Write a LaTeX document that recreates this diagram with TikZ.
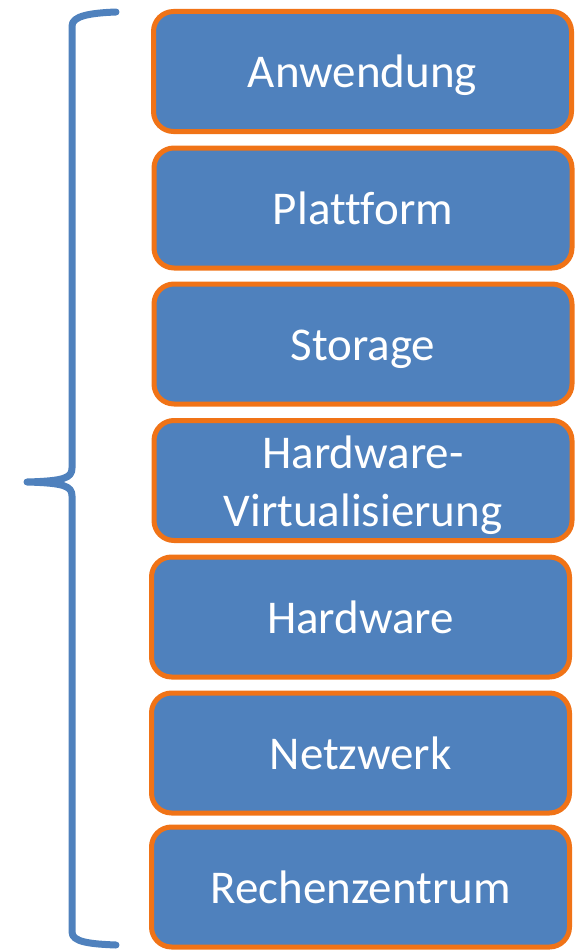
\documentclass[tikz,border=0pt]{standalone}
\usepackage{fontspec}
\setmainfont{Carlito}[Ligatures=NoCommon]
\definecolor{boxblue}{HTML}{4F81BD}
\definecolor{boxorange}{HTML}{F07317}
\begin{document}
\begin{tikzpicture}[x=1pt,y=-1pt,
  layer/.style={draw=boxorange, fill=boxblue, line width=5pt, rounded corners=20pt,
    minimum width=418pt, minimum height=120pt, inner sep=0pt, text=white,
    font=\fontsize{47}{58}\selectfont, align=center,
    text height=33pt, text depth=0pt},
  bracket/.style={draw=boxblue, line width=7pt, line cap=round, line join=round}]
\useasboundingbox (0,0) rectangle (574,950);
\node[layer] (a) at (362.5,71.5) {Anwendung};
\node[layer] (b) at (363,208) {Plattform};
\node[layer] (c) at (363,344) {Storage};
\node[layer, text height=91pt] (d) at (363,480.5) {Hardware-\\Virtualisierung};
\node[layer] (e) at (360.5,617) {Hardware};
\node[layer] (f) at (360.5,753) {Netzwerk};
\node[layer] (g) at (360.5,887) {Rechenzentrum};
\coordinate (btop) at (116,12);
\coordinate (btip) at (27,482);
\coordinate (bbot) at (116,945);
\draw[bracket] (btop) .. controls (90,13) and (72,16) .. (72,26)
  -- (72,468) .. controls (72,478) and (64,481) .. (btip)
  .. controls (64,483) and (72,486) .. (72,496)
  -- (72,932) .. controls (72,942) and (90,944) .. (bbot);
\end{tikzpicture}
\end{document}
